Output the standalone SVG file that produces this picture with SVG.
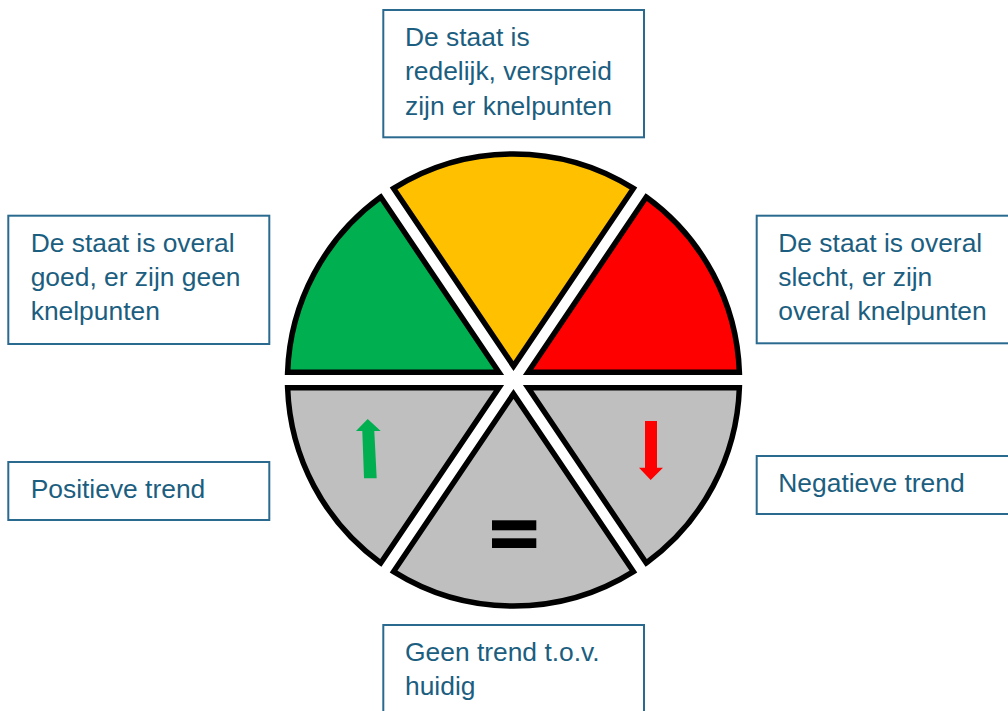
<svg xmlns="http://www.w3.org/2000/svg" width="1008" height="711" viewBox="0 0 1008 711">
<style>
.box{fill:#ffffff;stroke:#2a6a8f;stroke-width:2}
.t{font-family:"Liberation Sans",Arial,sans-serif;font-size:26.4px;fill:#1b5e80}
.seg{stroke:#000000;stroke-width:5.5;stroke-linejoin:miter;stroke-miterlimit:10}
</style>
<rect width="1008" height="711" fill="#ffffff"/>
<g id="wheel">
<g id="seg-red"><path class="seg" fill="#ff0000" d="M528.08,372.25 L739.37,372.25 A226,226 0 0 0 646.23,197.08 Z"/></g>
<g id="seg-yellow"><path class="seg" fill="#ffc000" d="M513.5,366.14 L633.39,188.42 A226,226 0 0 0 393.61,188.42 Z"/></g>
<g id="seg-green"><path class="seg" fill="#00b050" d="M498.92,372.25 L380.77,197.08 A226,226 0 0 0 287.63,372.25 Z"/></g>
<g id="seg-gray-left"><path class="seg" fill="#bfbfbf" d="M498.92,387.75 L287.63,387.75 A226,226 0 0 0 380.77,562.92 Z"/></g>
<g id="seg-gray-bottom"><path class="seg" fill="#bfbfbf" d="M513.5,393.86 L393.61,571.58 A226,226 0 0 0 633.39,571.58 Z"/></g>
<g id="seg-gray-right"><path class="seg" fill="#bfbfbf" d="M528.08,387.75 L646.23,562.92 A226,226 0 0 0 739.37,387.75 Z"/></g>
<polygon id="arrow-up" fill="#00b050" points="367.7,419 380.7,431 374.3,431 376.7,478.3 364,478.3 362.3,431 356,431"/>
<polygon id="arrow-down" fill="#ff0000" points="645,421 657,421 657,467.7 663,467.7 650.7,480 639,467.7 645,467.7"/>
<g id="equals" fill="#000000">
<rect x="492" y="520.3" width="44.3" height="10"/>
<rect x="492" y="538.3" width="44.3" height="9.7"/>
</g>
</g>
<g id="connectors"></g>
<g id="box-top">
<rect class="box" x="383.3" y="10" width="260.7" height="127.3"/>
<text class="t" x="405" y="46">De staat is</text>
<text class="t" x="405" y="80.3">redelijk, verspreid</text>
<text class="t" x="405" y="114.6">zijn er knelpunten</text>
</g>
<g id="box-left-top">
<rect class="box" x="8.3" y="215.7" width="261" height="128.3"/>
<text class="t" x="30.7" y="251.7">De staat is overal</text>
<text class="t" x="30.7" y="286">goed, er zijn geen</text>
<text class="t" x="30.7" y="320.3">knelpunten</text>
</g>
<g id="box-right-top">
<rect class="box" x="756.7" y="215.7" width="260" height="127.6"/>
<text class="t" x="778.3" y="251.7">De staat is overal</text>
<text class="t" x="778.3" y="286">slecht, er zijn</text>
<text class="t" x="778.3" y="320.3">overal knelpunten</text>
</g>
<g id="box-left-bottom">
<rect class="box" x="8.3" y="462" width="261" height="58"/>
<text class="t" x="30.7" y="497.5">Positieve trend</text>
</g>
<g id="box-right-bottom">
<rect class="box" x="756.7" y="456" width="260" height="58"/>
<text class="t" x="778.3" y="491.7">Negatieve trend</text>
</g>
<g id="box-bottom">
<rect class="box" x="383.3" y="625" width="260.7" height="100"/>
<text class="t" x="405" y="660.5">Geen trend t.o.v.</text>
<text class="t" x="405" y="694.8">huidig</text>
</g>
</svg>
